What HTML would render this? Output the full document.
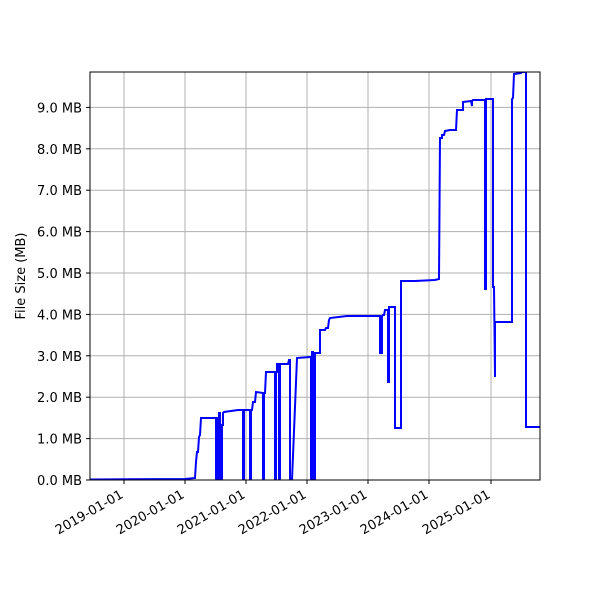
<!DOCTYPE html>
<html><head><style>body{margin:0;background:#fff}svg{display:block}text{font-family:"DejaVu Sans","Liberation Sans",sans-serif;font-size:13px;fill:#000}</style></head>
<body>
<svg width="600" height="600" viewBox="0 0 600 600" xmlns="http://www.w3.org/2000/svg">
<rect width="600" height="600" fill="#fff"/>
<g stroke="#b0b0b0" stroke-width="1">
<line x1="124" y1="72" x2="124" y2="480"/><line x1="185" y1="72" x2="185" y2="480"/><line x1="246" y1="72" x2="246" y2="480"/><line x1="307" y1="72" x2="307" y2="480"/><line x1="368" y1="72" x2="368" y2="480"/><line x1="429" y1="72" x2="429" y2="480"/><line x1="491" y1="72" x2="491" y2="480"/>
<line x1="90" y1="438.6" x2="540" y2="438.6"/><line x1="90" y1="397.2" x2="540" y2="397.2"/><line x1="90" y1="355.8" x2="540" y2="355.8"/><line x1="90" y1="314.4" x2="540" y2="314.4"/><line x1="90" y1="273" x2="540" y2="273"/><line x1="90" y1="231.6" x2="540" y2="231.6"/><line x1="90" y1="190.2" x2="540" y2="190.2"/><line x1="90" y1="148.8" x2="540" y2="148.8"/><line x1="90" y1="107.4" x2="540" y2="107.4"/>
</g>
<svg x="90" y="72" width="450" height="408" viewBox="90 72 450 408" overflow="hidden">
<polyline fill="none" stroke="#0000ff" stroke-width="2" stroke-linejoin="miter" points="
90,479.5 185,479 195,478 196,462 197,452 198,452 199,437 200,435 201,418 216,418 216,480 217,480 217,418 218,418 218,480 219,480 219,413 220,413 221,480 222,480 222,425 223,425 223,413 224,412 238,410 243,410 243,480 244,480 244,410 250,410 250,480 251,480 251,410 252,410 253,402 255,402 256,392 263,393 263,480 264,480 264,393 265,393 266,372 275,372 275,480 276,480 276,372 277,372 277,364 279,364 279,480 280,480 280,364 288,364 289,360 290,360 290,480 292,480 297,358 310,357 311,357 311,480 312,480 312,352 313,352 313,480 315,480 315,353 320,353 320,330 325,330 326,328 328,328 329,320 330,318 347,316 380,316 380,353 382,353 382,316 383,315 384,315 385,310 387,310 388,310 388,382 389,382 389,307 395,307 395,428 401,428 401,281 415,281 435,280 439,279 440,138 442,138 442,135 444,135 445,131 450,130 456,130 457,110 463,110 463,102 471,101 472,106 472,101 473,100 485,100 485,289 486,289 486,99 493,99 493,287 494,287 495,377 495,322 512,322 512,99 513,98 514,74 521,73 522,72 526,72 526,427 540,427"/>
</svg>
<rect x="90" y="72" width="450" height="408" fill="none" stroke="#000" stroke-width="1"/>
<g stroke="#000" stroke-width="1">
<line x1="124" y1="480" x2="124" y2="484"/><line x1="185" y1="480" x2="185" y2="484"/><line x1="246" y1="480" x2="246" y2="484"/><line x1="307" y1="480" x2="307" y2="484"/><line x1="368" y1="480" x2="368" y2="484"/><line x1="429" y1="480" x2="429" y2="484"/><line x1="491" y1="480" x2="491" y2="484"/>
<line x1="86" y1="480" x2="90" y2="480"/><line x1="86" y1="438.6" x2="90" y2="438.6"/><line x1="86" y1="397.2" x2="90" y2="397.2"/><line x1="86" y1="355.8" x2="90" y2="355.8"/><line x1="86" y1="314.4" x2="90" y2="314.4"/><line x1="86" y1="273" x2="90" y2="273"/><line x1="86" y1="231.6" x2="90" y2="231.6"/><line x1="86" y1="190.2" x2="90" y2="190.2"/><line x1="86" y1="148.8" x2="90" y2="148.8"/><line x1="86" y1="107.4" x2="90" y2="107.4"/>
</g>
<g text-anchor="end">
<text x="82" y="485">0.0 MB</text><text x="82" y="443.6">1.0 MB</text><text x="82" y="402.2">2.0 MB</text><text x="82" y="360.8">3.0 MB</text><text x="82" y="319.4">4.0 MB</text><text x="82" y="278">5.0 MB</text><text x="82" y="236.6">6.0 MB</text><text x="82" y="195.2">7.0 MB</text><text x="82" y="153.8">8.0 MB</text><text x="82" y="112.4">9.0 MB</text>
<text transform="translate(124,497) rotate(-30)">2019-01-01</text>
<text transform="translate(185,497) rotate(-30)">2020-01-01</text>
<text transform="translate(246,497) rotate(-30)">2021-01-01</text>
<text transform="translate(307,497) rotate(-30)">2022-01-01</text>
<text transform="translate(368,497) rotate(-30)">2023-01-01</text>
<text transform="translate(429,497) rotate(-30)">2024-01-01</text>
<text transform="translate(491,497) rotate(-30)">2025-01-01</text>
</g>
<text transform="translate(25,276) rotate(-90)" text-anchor="middle">File Size (MB)</text>
</svg>
</body></html>
